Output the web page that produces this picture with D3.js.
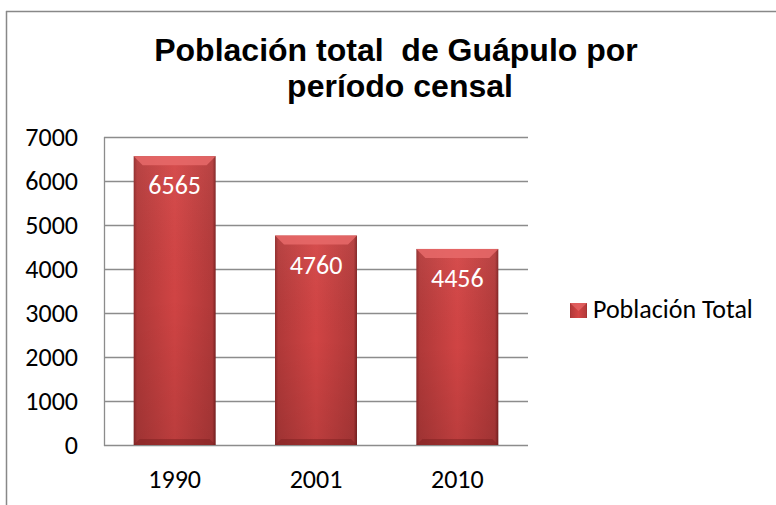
<!DOCTYPE html>
<html><head><meta charset="utf-8">
<script src="https://cdn.jsdelivr.net/npm/d3@7"></script>
<style>body{margin:0;background:#fff}svg{display:block}</style>
</head><body>
<script>
const categories = ["1990", "2001", "2010"];
const values = [6565, 4760, 4456];
const yTicks = [0, 1000, 2000, 3000, 4000, 5000, 6000, 7000];
const titleLines = ["Población total  de Guápulo por", "período censal"];
const seriesName = "Población Total";

(function(){
const W = 776, H = 505;
const FONT = "Carlito, Lato, 'Noto Sans', sans-serif";
const FS = 26;
const svg = d3.select("body").append("svg").attr("width", W).attr("height", H);
const defs = svg.append("defs");
const g1 = defs.append("linearGradient").attr("id","barH").attr("x1","0").attr("x2","1").attr("y1","0").attr("y2","0");
[[0,"#8e2a2a"],[0.04,"#b43a3a"],[0.5,"#d44545"],[0.96,"#b43a3a"],[1,"#7e2222"]].forEach(s=>g1.append("stop").attr("offset",s[0]).attr("stop-color",s[1]));
const g2 = defs.append("linearGradient").attr("id","barV").attr("x1","0").attr("x2","0").attr("y1","0").attr("y2","1");
[[0,"#ffffff",0.05],[0.5,"#000000",0.02],[1,"#000000",0.12]].forEach(s=>g2.append("stop").attr("offset",s[0]).attr("stop-color",s[1]).attr("stop-opacity",s[2]));

svg.append("line").attr("x1",6).attr("x2",W).attr("y1",11.5).attr("y2",11.5).attr("stroke","#888").attr("stroke-width",1.5);
svg.append("line").attr("x1",6.5).attr("x2",6.5).attr("y1",11).attr("y2",H).attr("stroke","#888").attr("stroke-width",1.5);

const pL = 104, pR = 528, pT = 137, pB = 445;
const x = d3.scaleBand().domain(categories).range([pL, pR]).paddingInner(0.42).paddingOuter(0.21);
const y = d3.scaleLinear().domain([0, 7000]).range([pB, pT]);

svg.append("text").attr("text-anchor","middle").attr("font-family","'Liberation Sans', Arial, sans-serif")
  .attr("font-weight","bold").attr("font-size",32).attr("fill","#000").style("white-space","pre")
  .selectAll("tspan").data(titleLines).join("tspan")
  .attr("x",(d,i)=> i===0 ? 396 : 400).attr("y",(d,i)=>61+i*36).text(d=>d);

svg.append("g").selectAll("line").data(yTicks).join("line")
  .attr("x1",pL).attr("x2",pR).attr("y1",d=>Math.round(y(d))+0.5).attr("y2",d=>Math.round(y(d))+0.5)
  .attr("stroke","#8c8c8c").attr("stroke-width",1.3);
svg.append("line").attr("x1",pL+0.5).attr("x2",pL+0.5).attr("y1",pT).attr("y2",pB+1).attr("stroke","#8c8c8c").attr("stroke-width",1.3);

const yAxis = svg.append("g").attr("transform",`translate(${pL},0)`)
  .call(d3.axisLeft(y).tickValues(yTicks).tickSize(0).tickPadding(26).tickFormat(d3.format("d")));
yAxis.select(".domain").remove();
yAxis.selectAll("text").attr("font-family",FONT).attr("font-size",FS).attr("fill","#000");

const xAxis = svg.append("g").attr("transform",`translate(0,${pB})`)
  .call(d3.axisBottom(x).tickSize(0).tickPadding(25));
xAxis.select(".domain").remove();
xAxis.selectAll("text").attr("font-family",FONT).attr("font-size",FS).attr("fill","#000");

const bars = svg.append("g").selectAll("g").data(values).join("g");
bars.append("rect").attr("x",(d,i)=>x(categories[i])).attr("y",d=>y(d)).attr("width",x.bandwidth()).attr("height",d=>pB-y(d)).attr("fill","url(#barH)");
bars.append("rect").attr("x",(d,i)=>x(categories[i])).attr("y",d=>y(d)).attr("width",x.bandwidth()).attr("height",d=>pB-y(d)).attr("fill","url(#barV)");
bars.append("path").attr("d",(d,i)=>{const x0=x(categories[i]),x1=x0+x.bandwidth(),yt=y(d),b=9;
  return `M${x0},${yt}L${x1},${yt}L${x1-b},${yt+b}L${x0+b},${yt+b}Z`;}).attr("fill","#e86a6a").attr("opacity",0.85);
bars.append("path").attr("d",(d,i)=>{const x0=x(categories[i]),x1=x0+x.bandwidth(),b=6;
  return `M${x0},${pB}L${x1},${pB}L${x1-b},${pB-b}L${x0+b},${pB-b}Z`;}).attr("fill","#7e2020").attr("opacity",0.5);
bars.append("text").attr("x",(d,i)=>x(categories[i])+x.bandwidth()/2).attr("y",d=>y(d)+38)
  .attr("text-anchor","middle").attr("font-family",FONT).attr("font-size",FS).attr("fill","#fff").text(d=>d);

const lg = svg.append("g");
lg.append("rect").attr("x",570).attr("y",303).attr("width",17).attr("height",15).attr("fill","url(#barH)");
lg.append("path").attr("d","M570,303L587,303L578.5,311Z").attr("fill","#e86a6a").attr("opacity",0.7);
lg.append("text").attr("x",593).attr("y",318).attr("font-family",FONT).attr("font-size",FS).attr("fill","#000").text(seriesName);
})();
</script>
</body></html>
